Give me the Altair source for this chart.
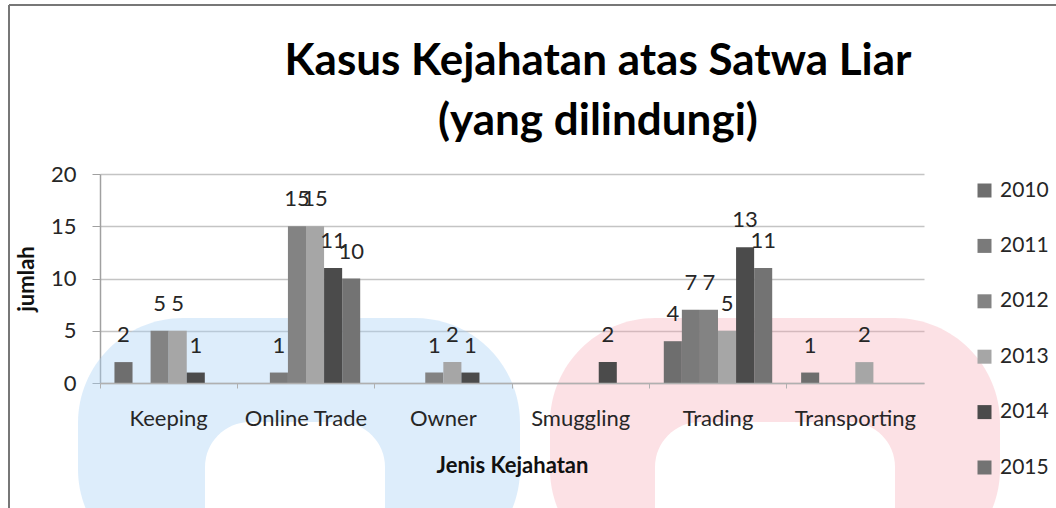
import altair as alt
import pandas as pd

categories = ["Keeping", "Online Trade", "Owner", "Smuggling", "Trading", "Transporting"]
years = ["2010", "2011", "2012", "2013", "2014", "2015"]
v2010 = [2, 0, 0, 0, 4, 1]
v2011 = [0, 1, 0, 0, 7, 0]
v2012 = [5, 15, 1, 0, 7, 0]
v2013 = [5, 15, 2, 0, 5, 2]
v2014 = [1, 11, 1, 2, 13, 0]
v2015 = [0, 10, 0, 0, 11, 0]
series = [v2010, v2011, v2012, v2013, v2014, v2015]
colors = ["#6e6e6e", "#7a7a7a", "#838383", "#a6a6a6", "#4b4b4b", "#737373"]

rows = []
for yr, vals in zip(years, series):
    for cat, val in zip(categories, vals):
        rows.append({"kategori": cat, "tahun": yr, "jumlah": val})
df = pd.DataFrame(rows)

FONT = "Lato"

x = alt.X(
    "kategori:N",
    sort=categories,
    scale=alt.Scale(paddingInner=0, paddingOuter=0),
    axis=alt.Axis(
        title="Jenis Kejahatan",
        labelAngle=0,
        bandPosition=0,
        tickSize=5,
        tickColor="#b0b0b0",
        domainColor="#b0b0b0",
        domainWidth=1.5,
        labelPadding=20,
        labelFontSize=22,
        labelColor="#262626",
        titleFontSize=22,
        titleFontWeight="bold",
        titleColor="#111111",
        titlePadding=26,
        grid=False,
        zindex=1,
    ),
)
xoff = alt.XOffset("tahun:N", sort=years, scale=alt.Scale(paddingInner=0, paddingOuter=0.8))
y = alt.Y(
    "jumlah:Q",
    scale=alt.Scale(domain=[0, 20]),
    axis=alt.Axis(
        title="jumlah",
        values=[0, 5, 10, 15, 20],
        tickSize=8,
        tickColor="#a0a0a0",
        domainColor="#a0a0a0",
        domainWidth=1.5,
        gridColor="#c4c4c4",
        gridWidth=1.5,
        labelFontSize=22,
        labelColor="#262626",
        labelPadding=16,
        titleFontSize=22,
        titleFontWeight="bold",
        titleColor="#111111",
        titlePadding=12,
    ),
)
color = alt.Color(
    "tahun:N",
    sort=years,
    scale=alt.Scale(domain=years, range=colors),
    legend=alt.Legend(
        title=None,
        orient="none",
        legendX=874,
        legendY=6,
        symbolType="square",
        symbolSize=196,
        symbolStrokeWidth=0,
        labelFontSize=21,
        labelColor="#262626",
        labelOffset=5,
        rowPadding=33.4,
    ),
)

base = alt.Chart(df).encode(x=x, xOffset=xoff)
bars = base.mark_bar().encode(y=y, color=color)
labels = (
    base.transform_filter("datum.jumlah > 0")
    .mark_text(baseline="alphabetic", dy=-20, fontSize=22, font=FONT, color="#262626")
    .encode(y="jumlah:Q", text="jumlah:Q")
)

# decorative background (watermark arches) and chart frame
deco = pd.DataFrame({"a": [0]})
blue_arch = alt.Chart(deco).mark_rect(cornerRadius=105, color="#a9d3f5", opacity=0.4).encode(
    x=alt.value(-22), x2=alt.value(420), y=alt.value(144), y2=alt.value(400)
)
blue_hole = alt.Chart(deco).mark_rect(cornerRadius=45, color="white").encode(
    x=alt.value(105), x2=alt.value(285), y=alt.value(248), y2=alt.value(400)
)
pink_arch = alt.Chart(deco).mark_rect(cornerRadius=105, color="#f7a3b0", opacity=0.33).encode(
    x=alt.value(450), x2=alt.value(900), y=alt.value(144), y2=alt.value(400)
)
pink_hole = alt.Chart(deco).mark_rect(cornerRadius=45, color="white").encode(
    x=alt.value(555), x2=alt.value(795), y=alt.value(248), y2=alt.value(400)
)
left_frame = alt.Chart(deco).mark_rule(color="#777777", strokeWidth=2).encode(
    x=alt.value(-91), y=alt.value(-169), y2=alt.value(334)
)
top_frame = alt.Chart(deco).mark_rule(color="#777777", strokeWidth=2).encode(
    x=alt.value(-91), x2=alt.value(956), y=alt.value(-169)
)

chart = (
    alt.layer(blue_arch, blue_hole, pink_arch, pink_hole, left_frame, top_frame, bars, labels)
    .properties(
        width=824,
        height=209,
        autosize=alt.AutoSizeParams(type="none"),
        padding={"left": 100, "top": 174, "right": 132, "bottom": 125},
        title=alt.Title(
            text=["Kasus Kejahatan atas Satwa Liar", "(yang dilindungi)"],
            font=FONT,
            fontSize=44,
            fontWeight="bold",
            color="#000000",
            anchor="middle",
            dx=86,
            dy=176,
            offset=36,
            lineHeight=60,
        ),
    )
    .configure(font=FONT, background="white")
    .configure_view(stroke=None)
)

chart.save("out.html", embed_options={"renderer": "svg", "actions": False})
